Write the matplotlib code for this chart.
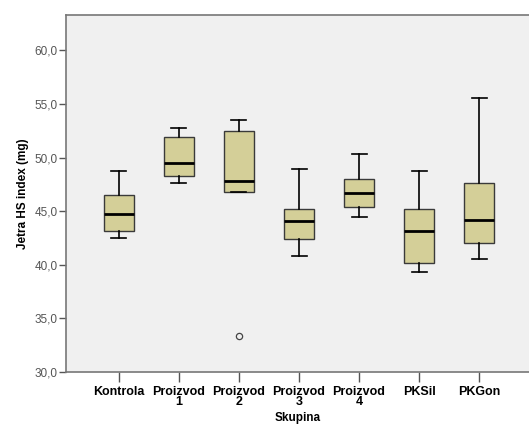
import numpy as np
import matplotlib.pyplot as plt
from matplotlib.ticker import FuncFormatter

plt.rcParams['font.family'] = ['Liberation Sans', 'DejaVu Sans']

# Box plot statistics
groups = ["Kontrola", "Proizvod\n1", "Proizvod\n2", "Proizvod\n3", "Proizvod\n4", "PKSil", "PKGon"]
whislo = [42.47, 47.6, 46.8, 40.79, 44.43, 39.3, 40.57]
q1 = [43.12, 48.31, 46.76, 42.38, 45.36, 40.14, 42.03]
med = [44.7, 49.52, 47.82, 44.11, 46.7, 43.18, 44.15]
q3 = [46.48, 51.95, 52.5, 45.23, 48.0, 45.17, 47.6]
whishi = [48.75, 52.79, 53.48, 48.94, 50.37, 48.78, 55.53]
outliers = [[], [], [33.36], [], [], [], []]

stats = []
for i in range(len(groups)):
    stats.append(dict(whislo=whislo[i], q1=q1[i], med=med[i], q3=q3[i],
                      whishi=whishi[i], fliers=outliers[i], label=groups[i]))

fig = plt.figure(figsize=(5.29, 4.28), dpi=100)
ax = fig.add_axes([0.1248, 0.1308, 0.8752, 0.834])
ax.set_facecolor('#F0F0F0')

ax.bxp(stats, positions=range(1, len(groups) + 1), widths=0.5, patch_artist=True,
       boxprops=dict(facecolor='#D4CF98', edgecolor='#3A3A3A', linewidth=1.0),
       medianprops=dict(color='black', linewidth=2.0),
       whiskerprops=dict(color='black', linewidth=1.2),
       capprops=dict(color='black', linewidth=1.2),
       capwidths=0.25,
       flierprops=dict(marker='o', markersize=4.5, markerfacecolor='none',
                       markeredgecolor='#444444', markeredgewidth=0.9))

ax.set_xlim(0.12, 7.83)
ax.set_ylim(30, 63.3)
ax.set_yticks([30, 35, 40, 45, 50, 55, 60])
ax.yaxis.set_major_formatter(FuncFormatter(lambda v, p: f"{v:.1f}".replace('.', ',')))

for s in ['left', 'top', 'bottom']:
    ax.spines[s].set_color('#777777')
    ax.spines[s].set_linewidth(1.2)
ax.spines['right'].set_visible(False)

ax.tick_params(axis='y', length=5, width=1, color='#555555', labelsize=8.5, labelcolor='#555555', pad=1)
ax.tick_params(axis='x', length=7, width=1, color='#555555', labelsize=9, pad=3)
for lab in ax.get_xticklabels():
    lab.set_fontweight('bold')
    lab.set_linespacing(0.8)

ax.set_ylabel("Jetra HS index (mg)", fontsize=8.5, fontweight='bold', labelpad=4)
ax.set_xlabel("Skupina", fontsize=8.5, fontweight='bold', labelpad=3)

fig.savefig("out.png", dpi=100)
